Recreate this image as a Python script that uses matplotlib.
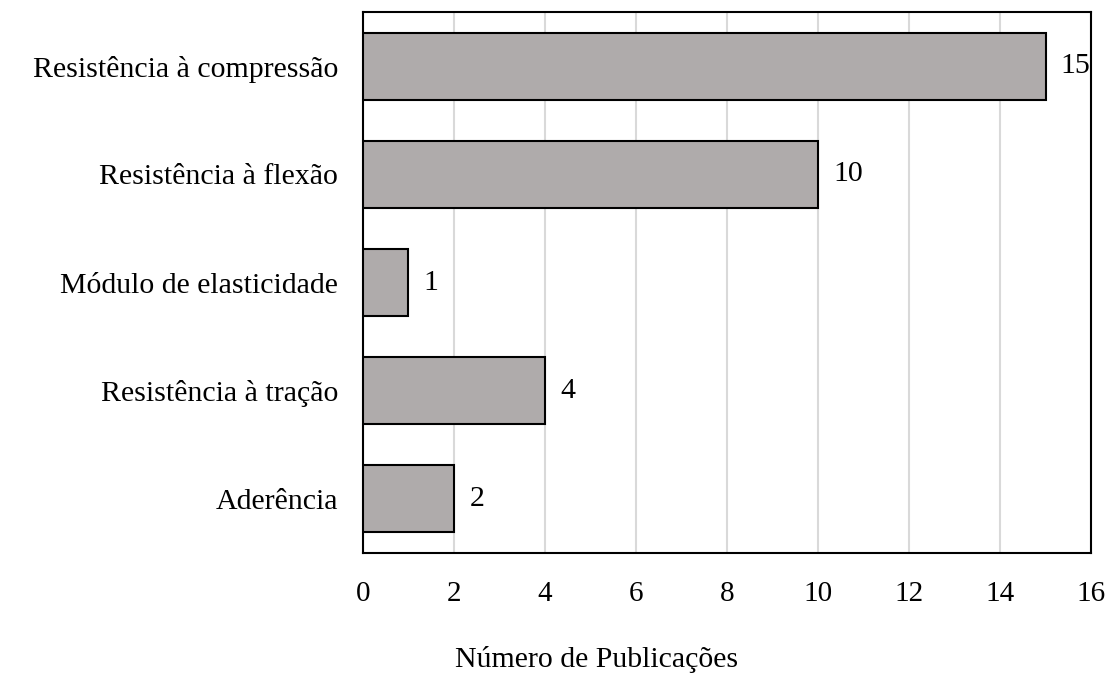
import matplotlib.pyplot as plt

plt.rcParams['font.family'] = ['Liberation Serif', 'DejaVu Serif']

categorias = ['Resistência à compressão', 'Resistência à flexão', 'Módulo de elasticidade',
              'Resistência à tração', 'Aderência']
publicacoes = [15, 10, 1, 4, 2]
xticks = [0, 2, 4, 6, 8, 10, 12, 14, 16]

fig = plt.figure(figsize=(11.09, 6.76), dpi=100)
ax = fig.add_axes([0.3273, 0.182, 0.6565, 0.8002])

pos = list(range(len(categorias)))[::-1]
ax.barh(pos, publicacoes, height=0.62, color='#AFABAB', edgecolor='black', linewidth=1.5, zorder=3)

for p, v in zip(pos, publicacoes):
    ax.annotate(str(v), (v, p), xytext=(11, 0), textcoords='offset points',
                va='center', ha='left', fontsize=21.5)

ax.set_xlim(0, 16)
ax.set_ylim(-0.5, len(categorias) - 0.5)
ax.set_xticks(xticks)
ax.set_xticklabels([str(t) for t in xticks], fontsize=21)
ax.set_yticks(pos)
ax.set_yticklabels(categorias, fontsize=21.5)
ax.tick_params(length=0, pad=18)
ax.tick_params(axis='x', pad=20)
ax.xaxis.grid(True, color='#D9D9D9', linewidth=1.5, zorder=0)
ax.set_axisbelow(True)
for s in ax.spines.values():
    s.set_linewidth(1.5)

# rótulo do eixo x fica um pouco à esquerda do centro, como no original
fig.text(0.538, 0.024, 'Número de Publicações', fontsize=21.5, ha='center', va='center')

fig.savefig('out.png', dpi=100)
